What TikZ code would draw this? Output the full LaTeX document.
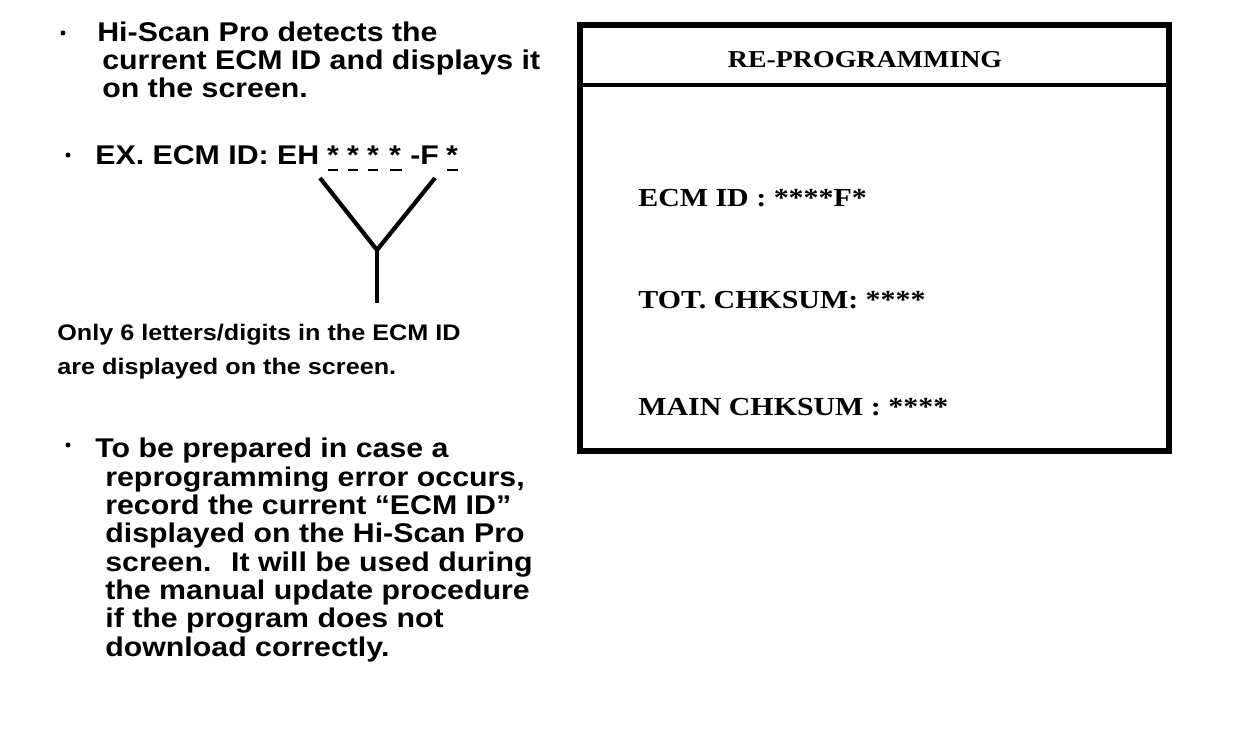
\documentclass[tikz,border=0pt]{standalone}
\usepackage{fontspec}
\setmainfont{Liberation Serif}[FakeStretch=1.15]
\setsansfont{Liberation Sans}[FakeStretch=1.12]
\usetikzlibrary{positioning}

\begin{document}
\begin{tikzpicture}[
    bullettext/.style={font=\sffamily\bfseries\fontsize{15.4}{16.1}\selectfont, anchor=base west, inner sep=0pt, align=left},
    notetext/.style={font=\sffamily\bfseries\fontsize{12.8}{19.9}\selectfont, anchor=base west, inner sep=0pt, align=left},
    screentext/.style={font=\rmfamily\bfseries\fontsize{14.8}{16}\selectfont, anchor=base west, inner sep=0pt},
    dot/.style={circle, fill, inner sep=0pt, minimum size=0.1cm},
    idmark/.style={line width=1.7pt},
    fork/.style={line width=2.4pt}
]
    \useasboundingbox (0,0) rectangle (24.96,-14.64);

    % first bullet (base of a block = its last line)
    \node[dot] (b1) at (1.26,-0.66) {};
    \node[bullettext] (detect) at (2.04,-1.96) {\hspace*{-0.1cm}Hi-Scan Pro detects the\\current ECM ID and displays it\\on the screen.};

    % second bullet with the example id
    \node[dot] (b2) at (1.36,-3.1) {};
    \node[bullettext] (example) at (1.9,-3.3) {EX. ECM ID: EH};
    \node[bullettext, anchor=base] (s1) at (6.66,-3.3) {*};
    \node[bullettext, anchor=base] (s2) at (7.06,-3.3) {*};
    \node[bullettext, anchor=base] (s3) at (7.46,-3.3) {*};
    \node[bullettext, anchor=base] (s4) at (7.9,-3.3) {*};
    \node[bullettext] (dashf) at (8.2,-3.3) {-F};
    \node[bullettext, anchor=base] (s5) at (9.04,-3.3) {*};

    \draw[idmark] (6.56,-3.4) -- + (0.2,0);
    \draw[idmark] (6.96,-3.4) -- + (0.2,0);
    \draw[idmark] (7.36,-3.4) -- + (0.2,0);
    \draw[idmark] (7.8,-3.4) -- + (0.24,0);
    \draw[idmark] (8.94,-3.4) -- + (0.22,0);

    % the Y under the marked letters
    \coordinate (forkl) at (6.4,-3.56);
    \coordinate (forkr) at (8.7,-3.56);
    \coordinate (forkc) at (7.54,-5.0);
    \coordinate (forkb) at (7.54,-6.06);
    \draw[fork] (forkl) -- (forkc) -- (forkr);
    \draw[fork] (forkc) -- (forkb);

    \node[notetext] (only) at (1.14,-7.5) {Only 6 letters/digits in the ECM ID\\are displayed on the screen.};

    % third bullet
    \node[dot] (b3) at (1.36,-8.9) {};
    \node[bullettext] (prepare) at (2.1,-13.12) {\hspace*{-0.2cm}To be prepared in case a\\reprogramming error occurs,\\record the current “ECM ID”\\displayed on the Hi-Scan Pro\\screen.~ It will be used during\\the manual update procedure\\if the program does not\\download correctly.};

    % screen
    \draw[line width=3.4pt] (11.6,-0.5) rectangle (23.38,-9.02);
    \draw[line width=2.2pt] (11.6,-1.7) -- (23.38,-1.7);
    \node[screentext, anchor=base, font=\rmfamily\bfseries\fontsize{13.8}{16}\selectfont] (title) at (17.3,-1.36) {RE-PROGRAMMING};
    \node[screentext] (ecmid) at (12.76,-4.14) {ECM ID : ****F*};
    \node[screentext] (totsum) at (12.76,-6.18) {TOT. CHKSUM: ****};
    \node[screentext] (mainsum) at (12.76,-8.3) {MAIN CHKSUM : ****};
\end{tikzpicture}
\end{document}
